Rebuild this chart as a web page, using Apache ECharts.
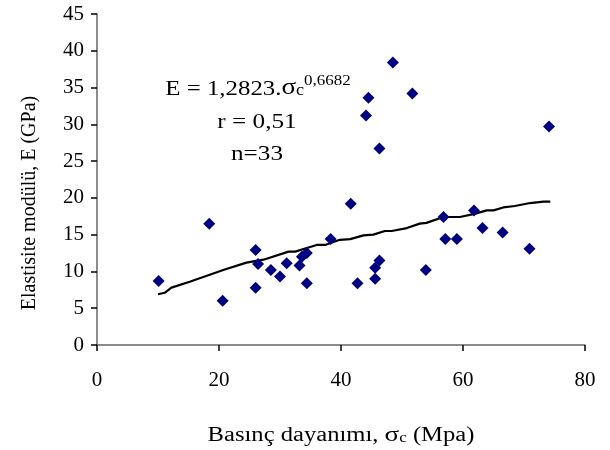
<!DOCTYPE html>
<html>
<head>
<meta charset="utf-8">
<script src="https://cdn.jsdelivr.net/npm/echarts@6/dist/echarts.min.js"></script>
<style>html,body{margin:0;padding:0;background:#fff;overflow:hidden}#c{width:610px;height:450px}</style>
</head>
<body>
<div id="c"></div>
<script>
// Measured points: compressive strength sigma_c (MPa) vs elastic modulus E (GPa)
var sigmaC = [48.5,44.5,51.7,44.1,46.3,74.1,10.1,18.4,20.6,26.0,26.4,26.0,28.5,30.0,31.1,33.2,33.6,34.4,34.4,38.3,41.6,42.7,45.6,45.6,46.3,53.9,56.8,57.1,59.0,61.8,63.2,66.5,70.9];
var modulusE = [38.4,33.6,34.2,31.2,26.7,29.7,8.7,16.5,6.0,12.9,11.0,7.8,10.2,9.3,11.1,10.8,12.0,12.5,8.4,14.4,19.2,8.4,9.0,10.5,11.5,10.2,17.4,14.4,14.4,18.3,15.9,15.3,13.1];
// Trend line as drawn
var trendX = [10.0,11.1,12.2,15.2,20.7,24.5,27.3,31.4,32.5,36.0,37.4,39.8,41.5,43.7,45.3,47.2,48.3,50.8,52.9,54.0,56.8,59.5,61.7,63.9,65.0,66.6,68.5,71.0,73.2,74.3];
var trendY = [6.9,7.1,7.8,8.6,10.2,11.2,11.6,12.7,12.7,13.6,13.6,14.3,14.4,14.9,15.0,15.5,15.5,15.9,16.5,16.6,17.4,17.4,17.8,18.3,18.3,18.7,18.9,19.3,19.5,19.5];
var xTicks = [0,20,40,60,80];
var yTicks = [0,5,10,15,20,25,30,35,40,45];

var F = '"Liberation Serif","Times New Roman",serif';
var pts = sigmaC.map(function(s,i){return [s, modulusE[i]];});
var line = trendX.map(function(s,i){return [s, trendY[i]];});

var chart = echarts.init(document.getElementById('c'), null, {renderer:'canvas'});
chart.setOption({
  animation:false,
  backgroundColor:'#fff',
  grid:{left:97,right:25,top:14,bottom:105,containLabel:false,outerBoundsMode:'none'},
  xAxis:{
    type:'value', min:xTicks[0], max:xTicks[xTicks.length-1], interval:20,
    axisLine:{lineStyle:{color:'#666',width:1.5}},
    axisTick:{inside:false,length:6,lineStyle:{color:'#000',width:1.5}},
    axisLabel:{fontFamily:F,fontSize:21,color:'#000',margin:25},
    splitLine:{show:false}
  },
  yAxis:{
    type:'value', min:yTicks[0], max:yTicks[yTicks.length-1], interval:5,
    axisLine:{lineStyle:{color:'#666',width:1.5}},
    axisTick:{inside:false,length:6,lineStyle:{color:'#000',width:1.5}},
    axisLabel:{fontFamily:F,fontSize:21,color:'#000',margin:13},
    splitLine:{show:false}
  },
  series:[
    {type:'scatter',data:pts,symbol:'diamond',symbolSize:12,itemStyle:{color:'#000080',opacity:1},z:3},
    {type:'line',data:line,showSymbol:false,symbol:'none',lineStyle:{color:'#000',width:2.2},z:2}
  ],
  graphic:[
    {type:'text',x:258,y:100,scaleX:1.13,style:{
      text:'{a|E = 1,2823.}{s|σ}{c|c}{p|0,6682}',
      textAlign:'center',textVerticalAlign:'bottom',
      rich:{
        a:{fontFamily:F,fontSize:22,color:'#000',verticalAlign:'bottom'},
        s:{fontFamily:F,fontSize:24,color:'#000',verticalAlign:'bottom'},
        c:{fontFamily:F,fontSize:16,color:'#000',verticalAlign:'bottom',padding:[0,0,1,0]},
        p:{fontFamily:F,fontSize:15,color:'#000',verticalAlign:'bottom',padding:[0,0,11,0]}
      }
    }},
    {type:'text',x:257,y:122,scaleX:1.2,style:{text:'r = 0,51',fontFamily:F,fontSize:21,fill:'#000',textAlign:'center',textVerticalAlign:'middle'}},
    {type:'text',x:257,y:154,scaleX:1.2,style:{text:'n=33',fontFamily:F,fontSize:21,fill:'#000',textAlign:'center',textVerticalAlign:'middle'}},
    {type:'text',x:341,y:435,scaleX:1.23,style:{
      text:'{t|Basınç dayanımı, }{s|σ}{c|c}{t| (Mpa)}',
      textAlign:'center',textVerticalAlign:'middle',
      rich:{
        t:{fontFamily:F,fontSize:20,color:'#000',verticalAlign:'bottom'},
        s:{fontFamily:F,fontSize:22,color:'#000',verticalAlign:'bottom'},
        c:{fontFamily:F,fontSize:14,color:'#000',verticalAlign:'bottom',padding:[0,0,1,0]}
      }
    }},
    {type:'text',x:30,y:203,rotation:Math.PI/2,style:{text:'Elastisite modülü, E (GPa)',fontFamily:F,fontSize:20,fill:'#000',textAlign:'center',textVerticalAlign:'middle'}}
  ]
});
</script>
</body>
</html>
